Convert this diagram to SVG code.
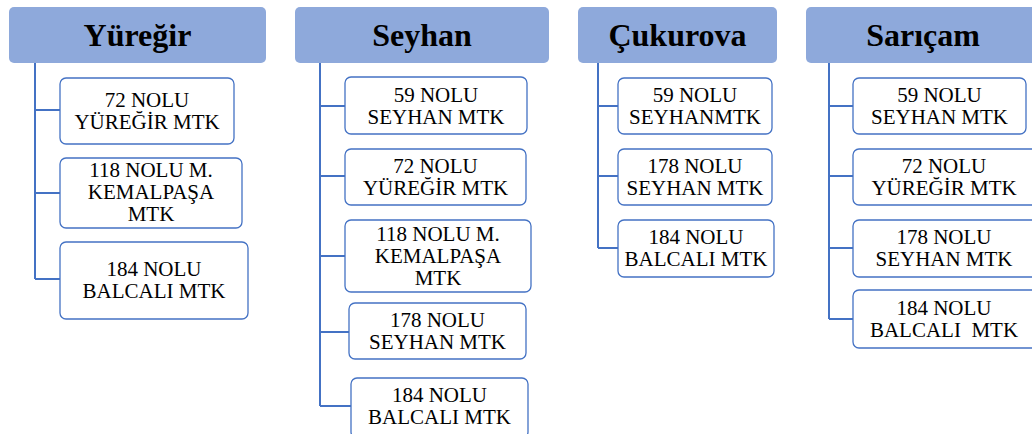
<svg xmlns="http://www.w3.org/2000/svg" width="1032" height="434" viewBox="0 0 1032 434">
<style>
.hdr{fill:#8EA9DB;}
.ht{font-family:'Liberation Serif',serif;font-weight:bold;font-size:32px;fill:#000;text-anchor:middle;}
.box{fill:#fff;stroke:#4472C4;stroke-width:1.3;}
.bt{font-family:'Liberation Serif',serif;font-size:21px;fill:#000;text-anchor:middle;}
.conn{fill:none;stroke:#4472C4;stroke-width:2;}
</style>
<rect width="1032" height="434" fill="#fff"/>
<g id="connectors">
<path class="conn" d="M35 63V279M35 110H60M35 193H60M35 279H60"/>
<path class="conn" d="M320 63V406M320 106H345M320 176H345M320 256H345M320 332H349M320 406H351"/>
<path class="conn" d="M598 63V248M598 106H618M598 176H618M598 248H618"/>
<path class="conn" d="M829 63V319M829 106H853M829 176H853M829 248H853M829 319H853"/>
</g>
<g font-family="Liberation Serif">
<g id="h-yuregir"><rect class="hdr" x="9" y="7" width="257" height="56" rx="5"/><text class="ht" font-family="Liberation Serif" x="137.5" y="46">Yüreğir</text></g>
<g id="h-seyhan"><rect class="hdr" x="295" y="7" width="254" height="56" rx="5"/><text class="ht" font-family="Liberation Serif" x="422" y="46">Seyhan</text></g>
<g id="h-cukurova"><rect class="hdr" x="578" y="7" width="199" height="56" rx="5"/><text class="ht" font-family="Liberation Serif" x="677.5" y="46">Çukurova</text></g>
<g id="h-saricam"><rect class="hdr" x="806" y="7" width="240" height="56" rx="5"/><text class="ht" font-family="Liberation Serif" x="923" y="46">Sarıçam</text></g>

<g id="y1"><rect class="box" x="60" y="78" width="174" height="66" rx="6"/><text class="bt" x="147" y="107">72 NOLU</text><text class="bt" x="147" y="129">YÜREĞİR MTK</text></g>
<g id="y2"><rect class="box" x="60" y="158" width="182" height="70" rx="6"/><text class="bt" x="151" y="177">118 NOLU M.</text><text class="bt" x="151" y="199">KEMALPAŞA</text><text class="bt" x="151" y="221">MTK</text></g>
<g id="y3"><rect class="box" x="60" y="242" width="188" height="77" rx="6"/><text class="bt" x="154" y="276">184 NOLU</text><text class="bt" x="154" y="298">BALCALI MTK</text></g>

<g id="s1"><rect class="box" x="345" y="77" width="182" height="57" rx="6"/><text class="bt" x="436" y="102">59 NOLU</text><text class="bt" x="436" y="124">SEYHAN MTK</text></g>
<g id="s2"><rect class="box" x="345" y="149" width="181" height="56" rx="6"/><text class="bt" x="435.5" y="173">72 NOLU</text><text class="bt" x="435.5" y="195">YÜREĞİR MTK</text></g>
<g id="s3"><rect class="box" x="345" y="220" width="186" height="72" rx="6"/><text class="bt" x="438" y="241">118 NOLU M.</text><text class="bt" x="438" y="263">KEMALPAŞA</text><text class="bt" x="438" y="285">MTK</text></g>
<g id="s4"><rect class="box" x="349" y="303" width="177" height="56" rx="6"/><text class="bt" x="437.5" y="327">178 NOLU</text><text class="bt" x="437.5" y="349">SEYHAN MTK</text></g>
<g id="s5"><rect class="box" x="351" y="378" width="177" height="60" rx="6"/><text class="bt" x="439.5" y="402">184 NOLU</text><text class="bt" x="439.5" y="424">BALCALI MTK</text></g>

<g id="c1"><rect class="box" x="618" y="78" width="154" height="56" rx="6"/><text class="bt" x="695" y="102">59 NOLU</text><text class="bt" x="695" y="124">SEYHANMTK</text></g>
<g id="c2"><rect class="box" x="618" y="149" width="154" height="56" rx="6"/><text class="bt" x="695" y="173">178 NOLU</text><text class="bt" x="695" y="195">SEYHAN MTK</text></g>
<g id="c3"><rect class="box" x="618" y="220" width="156" height="57" rx="6"/><text class="bt" x="696" y="244">184 NOLU</text><text class="bt" x="696" y="266">BALCALI MTK</text></g>

<g id="r1"><rect class="box" x="853" y="78" width="173" height="56" rx="6"/><text class="bt" x="939.5" y="102">59 NOLU</text><text class="bt" x="939.5" y="124">SEYHAN MTK</text></g>
<g id="r2"><rect class="box" x="853" y="149" width="185" height="56" rx="6"/><text class="bt" x="944" y="173">72 NOLU</text><text class="bt" x="944" y="195">YÜREĞİR MTK</text></g>
<g id="r3"><rect class="box" x="853" y="220" width="185" height="57" rx="6"/><text class="bt" x="944" y="244">178 NOLU</text><text class="bt" x="944" y="266">SEYHAN MTK</text></g>
<g id="r4"><rect class="box" x="853" y="290" width="185" height="58" rx="6"/><text class="bt" x="944" y="315">184 NOLU</text><text class="bt" x="944" y="337" xml:space="preserve">BALCALI  MTK</text></g>
</g>
</svg>
